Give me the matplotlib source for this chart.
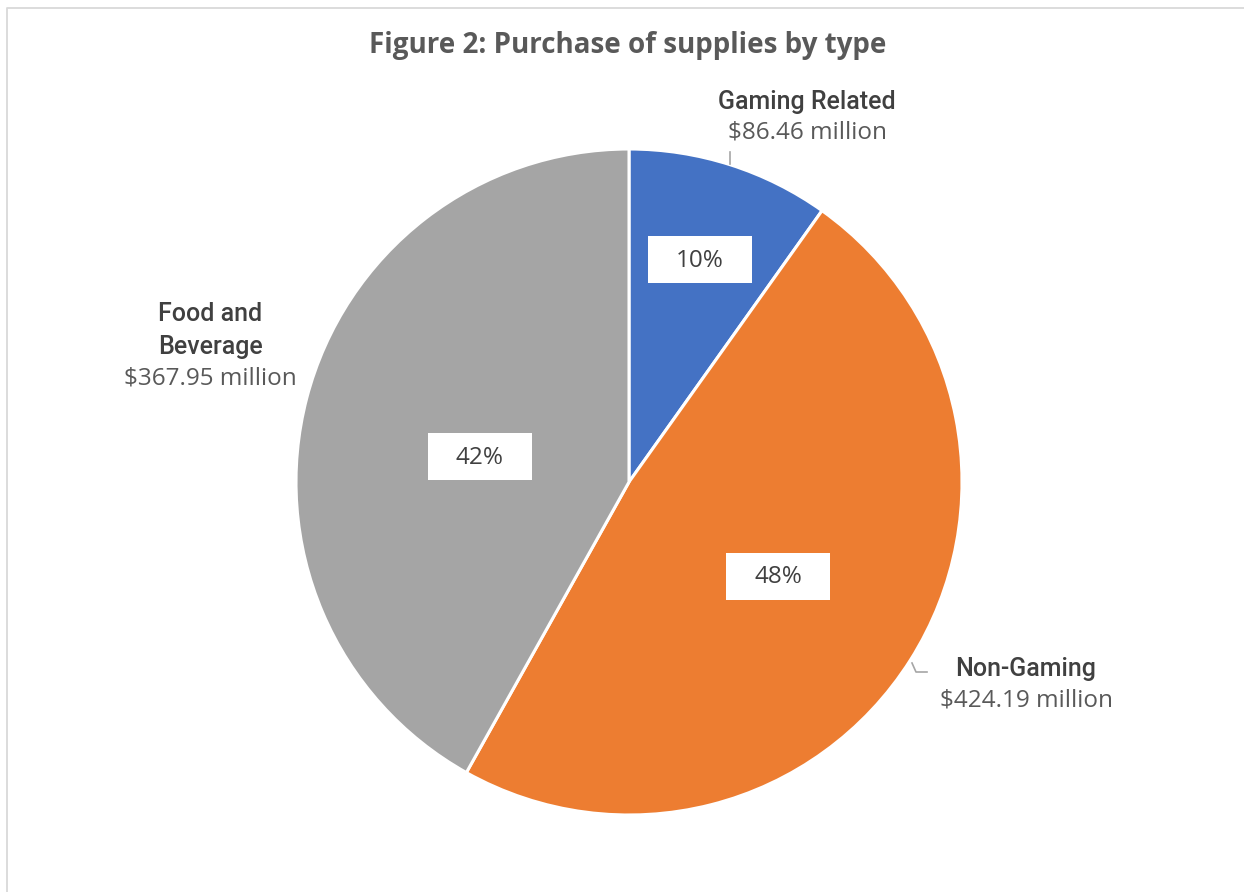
import numpy as np
import matplotlib.pyplot as plt
from matplotlib.patches import Rectangle
from matplotlib.lines import Line2D

# Supply purchases by type (millions of dollars)
categories = ["Gaming Related", "Non-Gaming", "Food and\nBeverage"]
values = [86.46, 424.19, 367.95]
colors = ["#4472C4", "#ED7D31", "#A5A5A5"]

title = "Figure 2: Purchase of supplies by type"

W, H = 1244, 892
fig = plt.figure(figsize=(W / 100, H / 100), dpi=100)
ax = fig.add_axes([0, 0, 1, 1])

BODY = "Open Sans"
LABEL = "Roboto"
cx, cy, r = 629, 482, 333

# y axis is flipped, so angles run clockwise on screen with counterclock=True
wedges, _, autotexts = ax.pie(
    values, colors=colors, startangle=-90, counterclock=True,
    center=(cx, cy), radius=r, autopct=lambda p: f"{p:.0f}%",
    wedgeprops=dict(edgecolor="white", linewidth=2.2),
    textprops=dict(fontsize=17.5, color="#404040", family=BODY),
    frame=True,
)
ax.set_xlim(0, W)
ax.set_ylim(H, 0)
ax.set_aspect("equal")
ax.axis("off")

# percentage boxes: (angle offset in degrees, fraction of radius)
pct_layout = [(0.0, 0.70), (0.0, 0.53), (-5.0, 0.455)]
bw, bh = 104, 47
for w, t, (da, f) in zip(wedges, autotexts, pct_layout):
    mid = np.deg2rad((w.theta1 + w.theta2) / 2 + da)
    x = cx + f * r * np.cos(mid)
    y = cy + f * r * np.sin(mid)
    ax.add_patch(Rectangle((x - bw / 2, y - bh / 2), bw, bh,
                           facecolor="white", edgecolor="none", zorder=3))
    t.set_position((x, y + 1))
    t.set_zorder(4)
    t.set_ha("center")
    t.set_va("center")

# outer category labels with amounts: (x, first line y, amount y)
outer = [(807, 102, 133), (1026, 669, 701), (210, 314, 379)]
line_step = 33
for name, v, (x, y1, y2) in zip(categories, values, outer):
    for i, line in enumerate(name.split("\n")):
        ax.text(x, y1 + i * line_step, line, ha="center", va="center",
                fontsize=18, color="#404040", family=LABEL,
                fontweight="medium", zorder=5)
    ax.text(x, y2, f"${v:.2f} million", ha="center", va="center",
            fontsize=17.5, color="#595959", family=BODY, zorder=5,
            bbox=dict(facecolor="white", edgecolor="none", pad=1))

# leader lines
lc = "#A6A6A6"
ax.add_line(Line2D([730, 730], [152, 164], color=lc, lw=1.2, zorder=5))
ax.add_line(Line2D([912, 916, 927], [663, 672, 672], color=lc, lw=1.2, zorder=5))

ax.text(628, 46, title, ha="center", va="center", fontsize=20,
        fontweight="bold", color="#595959", family=BODY)

# chart area frame
ax.add_line(Line2D([6.5, 6.5, W], [H, 7.5, 7.5], color="#D9D9D9", lw=1.3,
                   zorder=0))

fig.savefig("out.png", dpi=100, facecolor="white")
